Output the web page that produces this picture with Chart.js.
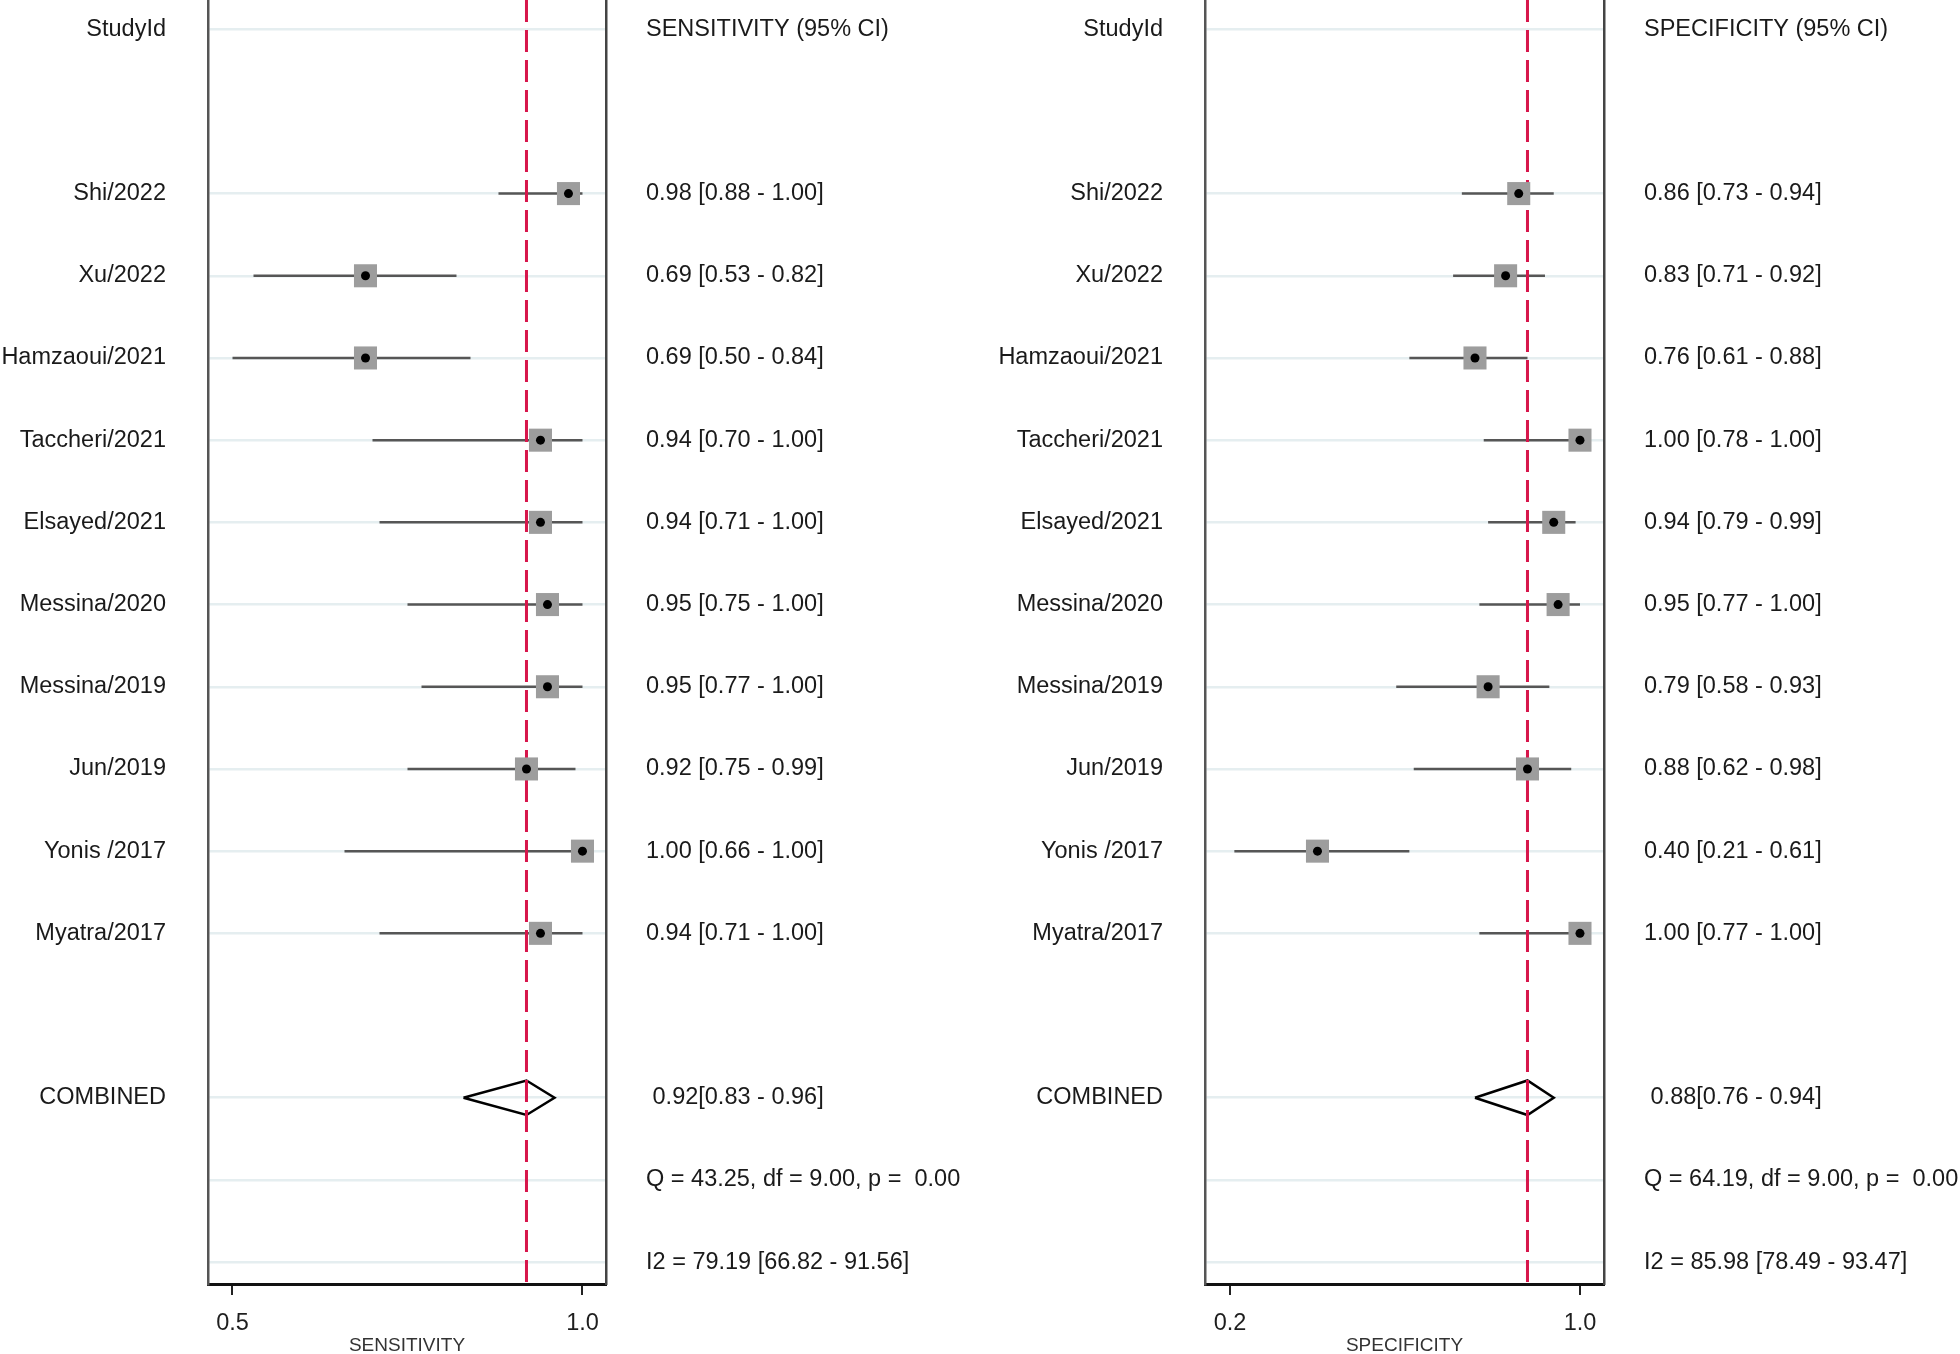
<!DOCTYPE html>
<html>
<head>
<meta charset="utf-8">
<script src="https://cdn.jsdelivr.net/npm/chart.js@4.4.1/dist/chart.umd.min.js"></script>
<style>
  html, body { margin: 0; padding: 0; background: #fff; }
  #wrap { position: relative; width: 1960px; height: 1354px; }
  canvas { position: absolute; top: 0; }
</style>
</head>
<body>
<div id="wrap">
  <canvas id="sens" width="980" height="1354" style="left:0"></canvas>
  <canvas id="spec" width="980" height="1354" style="left:980px"></canvas>
</div>
<script>
// studies, top to bottom
const studies = ["Shi/2022", "Xu/2022", "Hamzaoui/2021", "Taccheri/2021", "Elsayed/2021",
  "Messina/2020", "Messina/2019", "Jun/2019", "Yonis /2017", "Myatra/2017"];

// sensitivity (95% CI)
const sensEst = [0.98, 0.69, 0.69, 0.94, 0.94, 0.95, 0.95, 0.92, 1.00, 0.94];
const sensLo  = [0.88, 0.53, 0.50, 0.70, 0.71, 0.75, 0.77, 0.75, 0.66, 0.71];
const sensHi  = [1.00, 0.82, 0.84, 1.00, 1.00, 1.00, 1.00, 0.99, 1.00, 1.00];
const sensPooled = [0.92, 0.83, 0.96];   // est, lo, hi
const sensQ  = "Q = 43.25, df = 9.00, p =  0.00";
const sensI2 = "I2 = 79.19 [66.82 - 91.56]";
const sensTicks = [0.5, 1.0];

// specificity (95% CI)
const specEst = [0.86, 0.83, 0.76, 1.00, 0.94, 0.95, 0.79, 0.88, 0.40, 1.00];
const specLo  = [0.73, 0.71, 0.61, 0.78, 0.79, 0.77, 0.58, 0.62, 0.21, 0.77];
const specHi  = [0.94, 0.92, 0.88, 1.00, 0.99, 1.00, 0.93, 0.98, 0.61, 1.00];
const specPooled = [0.88, 0.76, 0.94];
const specQ  = "Q = 64.19, df = 9.00, p =  0.00";
const specI2 = "I2 = 85.98 [78.49 - 93.47]";
const specTicks = [0.2, 1.0];

// row layout (row index on the y scale)
const HEADER_ROW = 0;
const studyRows = studies.map((s, i) => i + 2);
const COMBINED_ROW = 13, Q_ROW = 14, I2_ROW = 15;
const allRows = [HEADER_ROW, ...studyRows, COMBINED_ROW, Q_ROW, I2_ROW];
const Y_MIN = -0.355, Y_MAX = 15.266;
const DIAMOND_HALF = 0.21; // half height of pooled diamond, in rows

const FONT = "'Liberation Sans', Arial, sans-serif";
const fmt = (v) => v.toFixed(2);

function buildPanel(canvasId, p) {
  const leftLabels = {};
  const rightLabels = {};
  leftLabels[HEADER_ROW] = "StudyId";
  rightLabels[HEADER_ROW] = p.header;
  studies.forEach((s, i) => {
    leftLabels[studyRows[i]] = s;
    rightLabels[studyRows[i]] = `${fmt(p.est[i])} [${fmt(p.lo[i])} - ${fmt(p.hi[i])}]`;
  });
  leftLabels[COMBINED_ROW] = "COMBINED";
  rightLabels[COMBINED_ROW] = ` ${fmt(p.pooled[0])}[${fmt(p.pooled[1])} - ${fmt(p.pooled[2])}]`;
  rightLabels[Q_ROW] = p.q;
  rightLabels[I2_ROW] = p.i2;

  // CI whiskers, one small line per study
  const ciSets = studies.map((s, i) => ({
    data: [{ x: p.lo[i], y: studyRows[i] }, { x: p.hi[i], y: studyRows[i] }],
    showLine: true,
    borderColor: "#565656",
    borderWidth: 2.5,
    pointRadius: 0,
    order: 5,
  }));

  const [pe, pl, ph] = p.pooled;
  const datasets = [
    ...ciSets,
    {
      // pooled diamond
      data: [
        { x: pl, y: COMBINED_ROW }, { x: pe, y: COMBINED_ROW - DIAMOND_HALF },
        { x: ph, y: COMBINED_ROW }, { x: pe, y: COMBINED_ROW + DIAMOND_HALF },
        { x: pl, y: COMBINED_ROW },
      ],
      showLine: true,
      borderColor: "#000",
      borderWidth: 2.5,
      borderJoinStyle: "miter",
      pointRadius: 0,
      order: 5,
    },
    {
      // pooled estimate reference line
      data: [{ x: pe, y: Y_MIN }, { x: pe, y: Y_MAX }],
      showLine: true,
      borderColor: "#d7164b",
      borderWidth: 3,
      borderDash: [22, 8],
      pointRadius: 0,
      order: 4,
    },
    {
      // weight boxes
      data: studies.map((s, i) => ({ x: p.est[i], y: studyRows[i] })),
      pointStyle: "rect",
      pointRadius: 16.3,
      backgroundColor: "#9d9d9d",
      borderWidth: 0,
      order: 3,
    },
    {
      // point estimates
      data: studies.map((s, i) => ({ x: p.est[i], y: studyRows[i] })),
      pointStyle: "circle",
      pointRadius: 4.5,
      backgroundColor: "#000",
      borderWidth: 0,
      order: 2,
    },
  ];

  return new Chart(document.getElementById(canvasId), {
    type: "scatter",
    data: { datasets },
    options: {
      responsive: false,
      devicePixelRatio: 1,
      animation: false,
      events: [],
      layout: { autoPadding: false, padding: 0 },
      plugins: { legend: { display: false }, tooltip: { enabled: false } },
      scales: {
        x: {
          type: "linear",
          min: p.xMin,
          max: p.xMax,
          afterBuildTicks: (scale) => { scale.ticks = p.ticks.map((v) => ({ value: v })); },
          afterFit: (scale) => { scale.height = 70; scale.paddingLeft = 0; scale.paddingRight = 0; },
          ticks: {
            callback: (v) => v.toFixed(1),
            color: "#1e1e1e",
            font: { family: FONT, size: 23.5 },
            padding: 14,
            maxRotation: 0,
          },
          grid: { drawOnChartArea: false, drawTicks: true, tickLength: 11, color: "#222", lineWidth: 2 },
          border: { display: true, color: "#111", width: 3 },
          title: {
            display: true,
            text: p.axisTitle,
            color: "#333",
            font: { family: FONT, size: 19, lineHeight: 0.84 },
            padding: 0,
          },
        },
        y: {
          type: "linear",
          position: "left",
          reverse: true,
          min: Y_MIN,
          max: Y_MAX,
          afterBuildTicks: (scale) => { scale.ticks = allRows.map((v) => ({ value: v })); },
          afterFit: (scale) => { scale.width = p.leftW; scale.paddingTop = 0; scale.paddingBottom = 0; },
          ticks: {
            callback: (v) => leftLabels[v] || "",
            color: "#1a1a1a",
            font: { family: FONT, size: 23.5 },
            padding: 42,
          },
          grid: { color: "#e5eef0", lineWidth: 2.5, drawTicks: false },
          border: { display: true, color: "#555", width: 2.5 },
        },
        yRight: {
          type: "linear",
          position: "right",
          reverse: true,
          min: Y_MIN,
          max: Y_MAX,
          afterBuildTicks: (scale) => { scale.ticks = allRows.map((v) => ({ value: v })); },
          afterFit: (scale) => { scale.width = p.rightW; scale.paddingTop = 0; scale.paddingBottom = 0; },
          ticks: {
            callback: (v) => rightLabels[v] || "",
            color: "#1a1a1a",
            font: { family: FONT, size: 23.5 },
            padding: 40,
          },
          grid: { display: false, drawTicks: false },
          border: { display: true, color: "#444", width: 2.5 },
        },
      },
    },
  });
}

buildPanel("sens", {
  est: sensEst, lo: sensLo, hi: sensHi, pooled: sensPooled, q: sensQ, i2: sensI2,
  header: "SENSITIVITY (95% CI)", axisTitle: "SENSITIVITY", ticks: sensTicks,
  xMin: 0.465, xMax: 1.0336, leftW: 208, rightW: 374,
});

buildPanel("spec", {
  est: specEst, lo: specLo, hi: specHi, pooled: specPooled, q: specQ, i2: specI2,
  header: "SPECIFICITY (95% CI)", axisTitle: "SPECIFICITY", ticks: specTicks,
  xMin: 0.1429, xMax: 1.0549, leftW: 225, rightW: 356,
});
</script>
</body>
</html>
